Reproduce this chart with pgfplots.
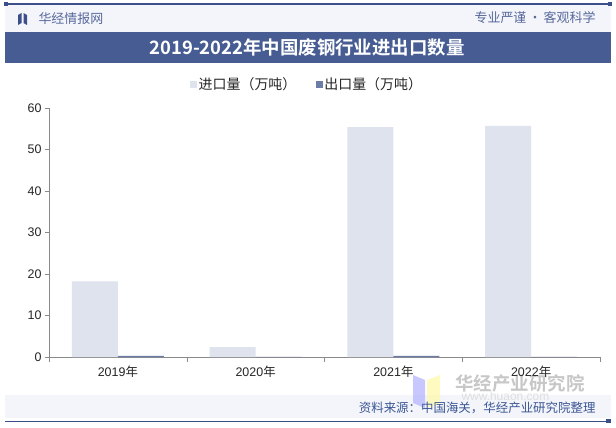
\documentclass[border=0pt]{standalone}
\usepackage{fontspec}
\setmainfont{Liberation Sans}
\newfontfamily\cjk{Noto Sans CJK SC}
\newfontfamily\cjkb{Noto Sans CJK SC Bold}
\usepackage{pgfplots}
\pgfplotsset{compat=1.18}
\definecolor{hdblue}{HTML}{465C92}
\definecolor{lineblue}{HTML}{3B4F8A}
\definecolor{bandbg}{HTML}{F3F5FA}
\definecolor{impc}{HTML}{DFE3EE}
\definecolor{expc}{HTML}{6B7CA6}
\definecolor{srcblue}{HTML}{3C5694}
\definecolor{axgray}{HTML}{8A8A8A}
\begin{document}
\begin{tikzpicture}[x=1bp,y=1bp]
\path[use as bounding box,fill=white] (0,0) rectangle (616,427);
% header
\fill[bandbg] (5,395) rectangle (611,422);
\draw[lineblue,line width=1.2bp] (5,423) -- (611,423);
\fill[lineblue] (4,421) rectangle (8,425);
\fill[lineblue] (608,421) rectangle (612,425);
\fill[lineblue] (18,402) -- (21.5,404) -- (21.5,414) -- (18,412) -- cycle;
\fill[lineblue] (23.5,404) -- (27,402) -- (27,412) -- (23.5,414) -- cycle;
\node[anchor=west,text=lineblue!85,font=\cjk\fontsize{13}{14}\selectfont] at (35,408) {华经情报网};
\node[anchor=east,text=lineblue!85,font=\cjk\fontsize{13}{14}\selectfont] at (599,409) {专业严谨\,•\,客观科学};
\fill[hdblue] (5,364) rectangle (611,395);
\node[text=white,font=\cjkb\fontsize{18.5}{20}\selectfont] at (307,379.5) {2019-2022年中国废钢行业进出口数量};
% footer
\fill[bandbg] (5,9) rectangle (611,32);
\draw[lineblue,line width=1bp] (5,6) -- (611,6);
\fill[lineblue] (606,4) rectangle (611,8);
% watermark
\fill[blue!30,opacity=0.7] (413,24) -- (425,19) -- (425,47) -- (413,52) -- cycle;
\fill[yellow!35,opacity=0.7] (427,19) -- (440,24) -- (440,52) -- (427,47) -- cycle;
\node[anchor=west,text=black!22,font=\cjkb\fontsize{18.5}{20}\selectfont] at (452,43) {华经产业研究院};
\node[anchor=west,text=black!13,font=\fontsize{12}{13}\selectfont] at (458,31) {www.huaon.com};
\node[anchor=east,text=srcblue,font=\cjk\fontsize{12.5}{14}\selectfont] at (599,19) {资料来源：中国海关，华经产业研究院整理};
\coordinate (O) at (49,70);
\begin{axis}[
  at={(O)}, anchor=south west,
  scale only axis, width=551bp, height=249bp,
  ybar=0pt, bar width=46bp,
  xmin=-0.5, xmax=3.5, ymin=0, ymax=60,
  xtick={0,1,2,3},
  xticklabels={{2019\cjk 年},{2020\cjk 年},{2021\cjk 年},{2022\cjk 年}},
  major x tick style={draw=none},
  minor xtick={-0.5,0.5,1.5,2.5,3.5},
  minor tick length=5bp,
  ytick={0,10,...,60},
  major tick length=4bp,
  tick align=outside,
  axis x line*=bottom, axis y line*=left,
  axis line style={axgray,-},
  tick style={axgray},
  every tick label/.style={font=\fontsize{12.5}{14}\selectfont, text=black!85},
  /pgf/number format/assume math mode=true,
  xticklabel style={yshift=-1bp},
  legend style={at={(0.468,1)}, anchor=south, yshift=13bp, draw=none, fill=none,
    font=\cjk\fontsize{14}{16}\selectfont, text=black!85,
    nodes={inner xsep=1.5bp},
    /tikz/every even column/.append style={column sep=18bp}},
  legend columns=2,
  legend image code/.code={\fill[#1] (0bp,-3.5bp) rectangle (7bp,3.5bp);},
]
\addplot[fill=impc, draw=none] coordinates {(0,18.2) (1,2.4) (2,55.4) (3,55.7)};
\addlegendentry{进口量（万吨）}
\addplot[fill=expc, draw=none] coordinates {(0,0.3) (1,0.05) (2,0.3) (3,0.05)};
\addlegendentry{出口量（万吨）}
\end{axis}
\end{tikzpicture}
\end{document}
